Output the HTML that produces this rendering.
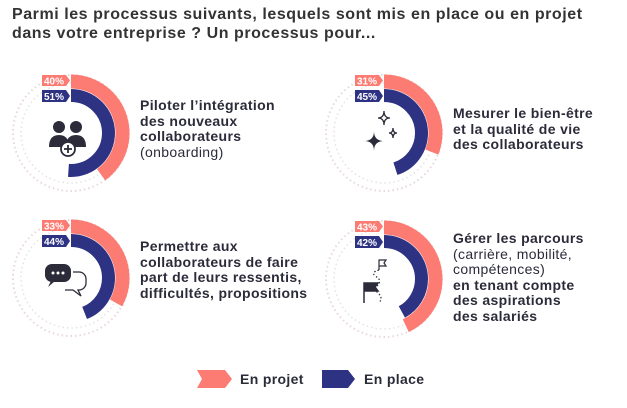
<!DOCTYPE html>
<html><head><meta charset="utf-8"><style>
body{margin:0;width:627px;height:408px;background:#fff;overflow:hidden;font-family:"Liberation Sans",sans-serif;}
svg{position:absolute;left:0;top:0}
.t{position:absolute;font-size:14px;letter-spacing:0.35px;line-height:15.5px;color:#2b2b3a;font-weight:bold}
.t span{font-weight:normal}
</style></head><body>
<svg width="627" height="408" viewBox="0 0 627 408">
<text x="12" y="19" font-size="16" letter-spacing="0.55" font-weight="bold" fill="#333">Parmi les processus suivants, lesquels sont mis en place ou en projet</text>
<text x="12" y="38" font-size="16" letter-spacing="0.55" font-weight="bold" fill="#333">dans votre entreprise ? Un processus pour...</text>
<defs>
<g id="ring"><circle r="58" fill="none" stroke="#e8d8d8" stroke-width="2" stroke-dasharray="1.5 3"/><circle r="50" fill="none" stroke="#e3e3e3" stroke-width="1.5" stroke-dasharray="1.5 3"/></g>
</defs>
<g transform="translate(71,133)">
<use href="#ring"/>
<circle r="51.5" fill="none" stroke="#fc7b72" stroke-width="14" stroke-dasharray="129.4 400" transform="rotate(-90)"/>
<circle r="37.5" fill="none" stroke="#2d3282" stroke-width="13" stroke-dasharray="120.2 400" transform="rotate(-90)"/>
<path d="M-29,-58h24l4,5.5l-4,5.5h-24z" fill="#fc7b72"/><text x="-17" y="-48.5" font-size="10" font-weight="bold" fill="#fff" text-anchor="middle">40%</text>
<path d="M-29,-43h24l4,6l-4,6h-24z" fill="#2d3282"/><text x="-17" y="-33" font-size="10" font-weight="bold" fill="#fff" text-anchor="middle">51%</text>
<circle cx="-12" cy="-6" r="6" fill="#2b2b3a"/><path d="M-22,14q0-12 10-12q10 0 10 12z" fill="#2b2b3a"/>
<circle cx="5" cy="-6" r="6" fill="#2b2b3a"/><path d="M-5,14q0-12 10-12q10 0 10 12z" fill="#2b2b3a"/>
<circle cx="-3" cy="16" r="7" fill="#fff" stroke="#2b2b3a" stroke-width="1.8"/><path d="M-7,16h8M-3,12v8" stroke="#2b2b3a" stroke-width="1.8"/>
</g>
<g transform="translate(384,133)">
<use href="#ring"/>
<circle r="51.5" fill="none" stroke="#fc7b72" stroke-width="14" stroke-dasharray="100.3 400" transform="rotate(-90)"/>
<circle r="37.5" fill="none" stroke="#2d3282" stroke-width="13" stroke-dasharray="106 400" transform="rotate(-90)"/>
<path d="M-29,-58h24l4,5.5l-4,5.5h-24z" fill="#fc7b72"/><text x="-17" y="-48.5" font-size="10" font-weight="bold" fill="#fff" text-anchor="middle">31%</text>
<path d="M-29,-43h24l4,6l-4,6h-24z" fill="#2d3282"/><text x="-17" y="-33" font-size="10" font-weight="bold" fill="#fff" text-anchor="middle">45%</text>
<path d="M-10,-2q0,10 -10,10q10,0 10,10q0,-10 10,-10q-10,0 -10,-10z" fill="#2b2b3a"/>
<path d="M0,-22q0,7 -6,7q6,0 6,7q0,-7 6,-7q-6,0 -6,-7z" fill="none" stroke="#2b2b3a" stroke-width="1.3"/>
<path d="M9,-5q0,5 -4,5q4,0 4,5q0,-5 4,-5q-4,0 -4,-5z" fill="none" stroke="#2b2b3a" stroke-width="1.3"/>
</g>
<g transform="translate(71,278)">
<use href="#ring"/>
<circle r="51.5" fill="none" stroke="#fc7b72" stroke-width="14" stroke-dasharray="106.8 400" transform="rotate(-90)"/>
<circle r="37.5" fill="none" stroke="#2d3282" stroke-width="13" stroke-dasharray="103.7 400" transform="rotate(-90)"/>
<path d="M-29,-58h24l4,5.5l-4,5.5h-24z" fill="#fc7b72"/><text x="-17" y="-48.5" font-size="10" font-weight="bold" fill="#fff" text-anchor="middle">33%</text>
<path d="M-29,-43h24l4,6l-4,6h-24z" fill="#2d3282"/><text x="-17" y="-33" font-size="10" font-weight="bold" fill="#fff" text-anchor="middle">44%</text>
<rect x="-26" y="-14" width="26" height="18" rx="7" fill="#2b2b3a"/><path d="M-20,3l-3,6l7,-6z" fill="#2b2b3a"/>
<circle cx="-18" cy="-5" r="1.5" fill="#fff"/><circle cx="-13" cy="-5" r="1.5" fill="#fff"/><circle cx="-8" cy="-5" r="1.5" fill="#fff"/>
<path d="M2,-6h6a7,7 0 0 1 7,7v4a7,7 0 0 1 -7,7h-1l3,6l-8,-6h-8" fill="none" stroke="#2b2b3a" stroke-width="1.3"/>
</g>
<g transform="translate(384,279)">
<use href="#ring"/>
<circle r="51.5" fill="none" stroke="#fc7b72" stroke-width="14" stroke-dasharray="139.1 400" transform="rotate(-90)"/>
<circle r="37.5" fill="none" stroke="#2d3282" stroke-width="13" stroke-dasharray="99 400" transform="rotate(-90)"/>
<path d="M-29,-58h24l4,5.5l-4,5.5h-24z" fill="#fc7b72"/><text x="-17" y="-48.5" font-size="10" font-weight="bold" fill="#fff" text-anchor="middle">43%</text>
<path d="M-29,-43h24l4,6l-4,6h-24z" fill="#2d3282"/><text x="-17" y="-33" font-size="10" font-weight="bold" fill="#fff" text-anchor="middle">42%</text>
<path d="M-5,-9v-10h7l-2,3l2,3h-7" fill="none" stroke="#2b2b3a" stroke-width="1.2"/>
<path d="M-5,-9q-8,2 -4,6q8,4 2,10q-3,4 2,8q4,4 0,9" fill="none" stroke="#2b2b3a" stroke-width="1.2" stroke-dasharray="1.5 2"/>
<path d="M-20,24v-20h14l-3,4l3,4h-14" fill="#2b2b3a" stroke="#2b2b3a" stroke-width="1.5"/>
</g>
<path d="M197,370h28l7,9l-7,9h-28l5,-9z" fill="#fc7b72"/>
<text x="240" y="384" font-size="14" letter-spacing="0.35" font-weight="bold" fill="#2b2b3a">En projet</text>
<path d="M322,370h26l7,9l-7,9h-26z" fill="#2d3282"/>
<text x="364" y="384" font-size="14" letter-spacing="0.35" font-weight="bold" fill="#2b2b3a">En place</text>
</svg>
<div class="t" style="left:140px;top:98px">Piloter l’intégration<br>des nouveaux<br>collaborateurs<br><span>(onboarding)</span></div>
<div class="t" style="left:453px;top:106px">Mesurer le bien-être<br>et la qualité de vie<br>des collaborateurs</div>
<div class="t" style="left:140px;top:239px">Permettre aux<br>collaborateurs de faire<br>part de leurs ressentis,<br>difficultés, propositions</div>
<div class="t" style="left:453px;top:231px">Gérer les parcours<br><span>(carrière, mobilité,<br>compétences)</span><br>en tenant compte<br>des aspirations<br>des salariés</div>
</body></html>
